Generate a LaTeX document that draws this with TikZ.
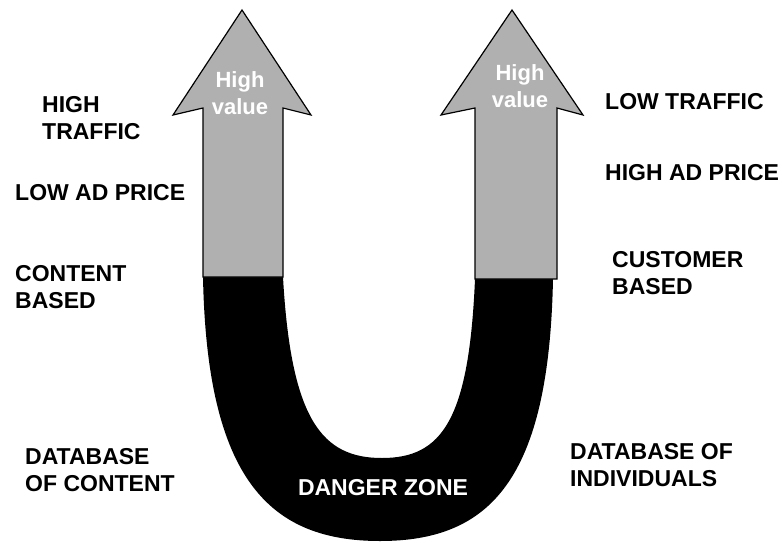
\documentclass[tikz,border=0pt]{standalone}
\usepackage{fontspec}
\setmainfont{Liberation Sans}
\definecolor{armgray}{RGB}{176,176,176}
\tikzset{lbl/.style={anchor=west, inner sep=0pt, align=left, font=\fontsize{23}{27}\selectfont\bfseries}}
\tikzset{inlbl/.style={inner sep=0pt, align=center, text=white, font=\fontsize{22}{27}\selectfont\bfseries}}
\tikzset{arm/.style={fill=armgray, draw=black, line width=1.2pt, line join=miter}}

\begin{document}
\begin{tikzpicture}[x=1pt, y=-1pt]
    \useasboundingbox (0,0) rectangle (782,542);

    % the U
    \fill[black] (203,277)
      .. controls (207,480) and (270,541) .. (380,541)
      .. controls (490,541) and (549,480) .. (553,279)
      -- (475,279)
      .. controls (469,420) and (442,458) .. (382,458)
      .. controls (322,458) and (291,420) .. (283,277)
      -- cycle;

    % the two arrows
    \draw[arm] (203,277) -- (203,108) -- (173,115) -- (242,10)
      -- (311,115) -- (283,108) -- (283,277) -- cycle;
    \draw[arm] (475,279) -- (475,108) -- (441,115) -- (512,10)
      -- (583,115) -- (557,108) -- (557,279) -- cycle;

    \node[inlbl] (valL) at (240,93) {High\\value};
    \node[inlbl] (valR) at (520,86) {High\\value};
    \node[inlbl, font=\fontsize{23}{27}\selectfont\bfseries] (danger) at (383,488) {DANGER ZONE};

    % left side
    \node[lbl] (traffL) at (42,118.5) {HIGH\\TRAFFIC};
    \node[lbl] (priceL) at (15,193) {LOW AD PRICE};
    \node[lbl] (basedL) at (15,287.5) {CONTENT\\BASED};
    \node[lbl] (dbL) at (25,470.5) {DATABASE\\OF CONTENT};

    % right side
    \node[lbl] (traffR) at (605,102) {LOW TRAFFIC};
    \node[lbl] (priceR) at (605,173) {HIGH AD PRICE};
    \node[lbl] (basedR) at (612,273.5) {CUSTOMER\\BASED};
    \node[lbl] (dbR) at (570,465) {DATABASE OF\\INDIVIDUALS};
\end{tikzpicture}
\end{document}
